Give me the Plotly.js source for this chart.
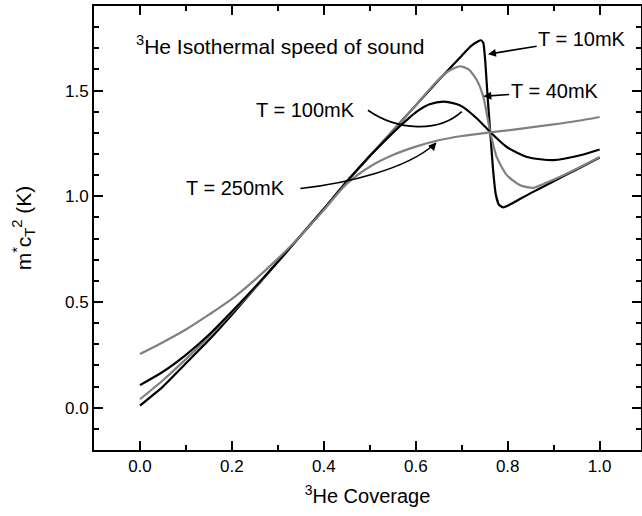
<!DOCTYPE html>
<html>
<head>
<meta charset="utf-8">
<script src="https://cdn.plot.ly/plotly-3.0.1.min.js"></script>
<style>html,body{margin:0;padding:0;background:#fff;}</style>
</head>
<body>
<div id="chart" style="width:642px;height:516px;"></div>
<script>
// T = 10 mK
const x10 = [0,0.05,0.1,0.15,0.2,0.25,0.3,0.35,0.4,0.45,0.5,0.55,0.6,0.65,0.7,0.72,0.735,0.742,0.747,0.751,0.756,0.762,0.768,0.774,0.781,0.79,0.8,0.85,0.9,0.95,1.0];
const y10 = [0.01,0.10,0.21,0.32,0.44,0.565,0.69,0.815,0.94,1.07,1.19,1.31,1.43,1.55,1.665,1.71,1.732,1.738,1.725,1.645,1.48,1.304,1.13,1.01,0.96,0.948,0.955,1.015,1.071,1.127,1.183];
// T = 40 mK
const x40 = [0,0.05,0.1,0.15,0.2,0.25,0.3,0.35,0.4,0.45,0.5,0.55,0.6,0.64,0.67,0.696,0.715,0.733,0.747,0.762,0.776,0.798,0.827,0.856,0.88,0.914,0.95,1.0];
const y40 = [0.04,0.13,0.23,0.335,0.45,0.565,0.69,0.815,0.94,1.07,1.19,1.31,1.43,1.53,1.59,1.615,1.60,1.549,1.47,1.304,1.186,1.10,1.052,1.04,1.06,1.092,1.13,1.186];
// T = 100 mK
const x100 = [0,0.05,0.1,0.15,0.2,0.25,0.3,0.35,0.4,0.45,0.5,0.55,0.58,0.602,0.63,0.66,0.69,0.703,0.733,0.762,0.798,0.842,0.9,0.958,1.0];
const y100 = [0.107,0.17,0.25,0.345,0.455,0.57,0.69,0.815,0.94,1.07,1.19,1.30,1.36,1.40,1.435,1.448,1.435,1.422,1.368,1.304,1.233,1.186,1.171,1.194,1.221];
// T = 250 mK
const x250 = [0,0.05,0.1,0.15,0.2,0.25,0.3,0.35,0.4,0.45,0.5,0.55,0.6,0.65,0.7,0.762,0.8,0.85,0.9,0.95,1.0];
const y250 = [0.254,0.31,0.37,0.44,0.515,0.605,0.705,0.815,0.935,1.06,1.14,1.195,1.235,1.265,1.285,1.302,1.312,1.326,1.34,1.356,1.375];

const seriesNames = ["T = 10mK","T = 40mK","T = 100mK","T = 250mK"];
const seriesColors = ["#000000","#808080","#000000","#808080"];
const seriesSmoothing = [0.4,0.6,0.7,0.8];
const xTickVals = [0,0.2,0.4,0.6,0.8,1.0];
const yTickVals = [0,0.5,1.0,1.5];

const FONT = "Liberation Sans, Arial, Helvetica, sans-serif";
const xs = [x10,x40,x100,x250], ys=[y10,y40,y100,y250];
const traces = xs.map((x,i)=>({
  x:x, y:ys[i], type:'scatter', mode:'lines', name:seriesNames[i],
  line:{color:seriesColors[i], width:2.2, shape:'spline', smoothing:seriesSmoothing[i]},
  hoverinfo:'skip'
}));

const axisCommon = {
  showgrid:false, zeroline:false, showline:true, linecolor:'#000', linewidth:2,
  mirror:'ticks', ticks:'inside', ticklen:9, tickwidth:2, tickcolor:'#000',
  tickfont:{family:FONT, size:17, color:'#000'}, tickformat:'.1f'
};

const layout = {
  width:642, height:516,
  margin:{l:94, r:1, t:6, b:66},
  paper_bgcolor:'#fff', plot_bgcolor:'#fff',
  showlegend:false,
  font:{family:FONT, color:'#000'},
  xaxis:Object.assign({}, axisCommon, {
    range:[-0.1,1.09], tickvals:xTickVals,
    minor:{dtick:0.1, tick0:0, ticks:'inside', ticklen:5, tickwidth:2, tickcolor:'#000'},
    title:{text:'<sup>3</sup>He Coverage', font:{family:FONT,size:20,color:'#000'}, standoff:14}
  }),
  yaxis:Object.assign({}, axisCommon, {
    range:[-0.2,1.9], tickvals:yTickVals,
    minor:{dtick:0.1, tick0:0, ticks:'inside', ticklen:5, tickwidth:2, tickcolor:'#000'},
    title:{text:'m<sup>*</sup>c<sub>T</sub><sup>2</sup> (K)', font:{family:FONT,size:21,color:'#000'}, standoff:28}
  }),
  shapes:[
    {type:'path', xref:'x', yref:'y', path:'M 0.496,1.407 C 0.56,1.31 0.65,1.30 0.700,1.400', line:{color:'#000', width:1.6}},
    {type:'path', xref:'x', yref:'y', path:'M 0.349,1.037 C 0.45,1.06 0.58,1.13 0.640,1.245', line:{color:'#000', width:1.6}}
  ],
  annotations:[
    {text:'<sup>3</sup>He Isothermal speed of sound', x:-0.013, y:1.715, xref:'x', yref:'y', xanchor:'left', yanchor:'middle', showarrow:false, font:{family:FONT,size:21,color:'#000'}},
    {text:'T = 10mK', x:0.757, y:1.672, xref:'x', yref:'y', ax:0.962, ay:1.745, axref:'x', ayref:'y', showarrow:true, arrowhead:2, arrowsize:1, arrowwidth:1.6, arrowcolor:'#000', font:{family:FONT,size:20,color:'#000'}},
    {text:'T = 40mK', x:0.747, y:1.473, xref:'x', yref:'y', ax:0.902, ay:1.497, axref:'x', ayref:'y', showarrow:true, arrowhead:2, arrowsize:1, arrowwidth:1.6, arrowcolor:'#000', font:{family:FONT,size:20,color:'#000'}},
    {text:'T = 100mK', x:0.36, y:1.407, xref:'x', yref:'y', showarrow:false, font:{family:FONT,size:20,color:'#000'}},
    {text:'T = 250mK', x:0.208, y:1.037, xref:'x', yref:'y', showarrow:false, font:{family:FONT,size:20,color:'#000'}},
    {text:'', x:0.703, y:1.407, xref:'x', yref:'y', ax:0.697, ay:1.394, axref:'x', ayref:'y', showarrow:true, arrowhead:2, arrowsize:1, arrowwidth:1.6, arrowcolor:'#000', standoff:0, startstandoff:0},
    {text:'', x:0.645, y:1.255, xref:'x', yref:'y', ax:0.638, ay:1.238, axref:'x', ayref:'y', showarrow:true, arrowhead:2, arrowsize:1, arrowwidth:1.6, arrowcolor:'#000', standoff:0, startstandoff:0}
  ]
};

Plotly.newPlot('chart', traces, layout, {staticPlot:true, displayModeBar:false});
</script>
</body>
</html>
